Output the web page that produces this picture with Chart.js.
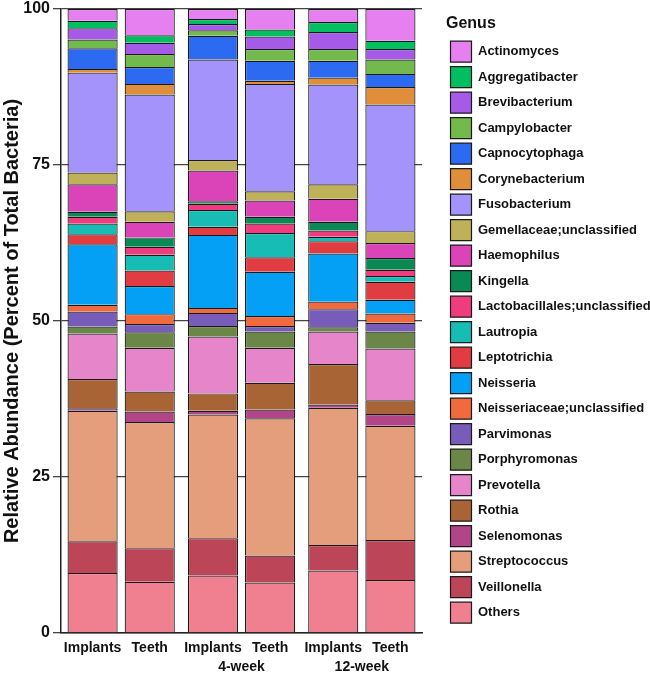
<!DOCTYPE html>
<html>
<head>
<meta charset="utf-8">
<title>Relative abundance by genus</title>
<script src="https://cdn.jsdelivr.net/npm/chart.js@4.4.1/dist/chart.umd.min.js"></script>
<style>
  html, body { margin: 0; padding: 0; background: #fff; }
  #wrap { width: 650px; height: 676px; }
</style>
</head>
<body>
<div id="wrap"><canvas id="abundanceChart"></canvas></div>
<script>
// Stack order, bottom to top
const genera = [
    "Others", "Veillonella", "Streptococcus", "Selenomonas", "Rothia",
    "Prevotella", "Porphyromonas", "Parvimonas", "Neisseriaceae;unclassified",
    "Neisseria", "Leptotrichia", "Lautropia", "Lactobacillales;unclassified",
    "Kingella", "Haemophilus", "Gemellaceae;unclassified", "Fusobacterium",
    "Corynebacterium", "Capnocytophaga", "Campylobacter", "Brevibacterium",
    "Aggregatibacter", "Actinomyces"
];
const colors = [
    "#f07f8f", "#bd4558", "#e59e7c", "#b24588", "#a86434",
    "#e685c9", "#6a8747", "#775cb9", "#f06a3e",
    "#03a0f5", "#e03c42", "#17bdb5", "#f03c7e",
    "#098a55", "#db44b8", "#bfb05a", "#a493fa",
    "#e08e3a", "#2d6af2", "#72ba4b", "#a65be8",
    "#00bf60", "#e67fef"
];
const groups = ["", "4-week", "12-week"];
const sites = ["Implants", "Teeth"];

// Percent of total bacteria, same order as genera
const implantsBaseline = [9.6, 5.1, 20.9, 0.4, 4.7, 7.3, 1.1, 2.4, 1.1, 9.7, 1.6, 1.7, 1.1, 0.8, 4.4, 1.9, 16.0, 0.6, 3.3, 1.4, 1.8, 1.2, 1.9];
const teethBaseline    = [8.2, 5.4, 20.2, 1.7, 3.2, 7.0, 2.5, 1.3, 1.6, 4.5, 2.5, 2.5, 1.3, 1.5, 2.5, 1.7, 18.7, 1.7, 2.7, 2.1, 1.8, 1.2, 4.2];
const implants4wk      = [9.2, 6.0, 19.8, 0.6, 2.8, 9.1, 1.7, 2.1, 0.8, 11.7, 1.3, 2.7, 1.0, 0.4, 4.9, 1.7, 16.1, 0.1, 3.7, 0.9, 1.0, 0.8, 1.6];
const teeth4wk         = [8.1, 4.3, 22.0, 1.4, 4.3, 5.6, 2.6, 0.9, 1.6, 7.1, 2.3, 3.9, 1.5, 1.1, 2.6, 1.5, 17.2, 0.5, 3.2, 1.9, 2.0, 1.1, 3.3];
const implants12wk     = [10.0, 4.1, 22.0, 0.5, 6.5, 5.2, 0.7, 2.9, 1.2, 7.7, 2.0, 0.7, 1.0, 1.4, 3.7, 2.3, 16.0, 1.1, 2.7, 1.9, 2.7, 1.6, 2.1];
const teeth12wk        = [8.5, 6.4, 18.3, 1.9, 2.2, 8.3, 2.7, 1.4, 1.5, 2.2, 2.9, 0.9, 1.0, 1.9, 2.4, 1.9, 20.3, 2.8, 2.1, 2.3, 1.7, 1.3, 5.1];

const FONT = "'Liberation Sans', Arial, Helvetica, sans-serif";

// Implants / Teeth under every bar
const siteLabels = {
    id: "siteLabels",
    afterDraw(chart) {
        const ctx = chart.ctx;
        const y = chart.chartArea.bottom + 8;
        ctx.save();
        ctx.font = "bold 14px " + FONT;
        ctx.fillStyle = "#111";
        ctx.textAlign = "center";
        ctx.textBaseline = "top";
        sites.forEach((site, s) => {
            chart.getDatasetMeta(s).data.forEach((bar) => ctx.fillText(site, bar.x, y));
        });
        ctx.restore();
    }
};

function buildDatasets() {
    const implants = [implantsBaseline, implants4wk, implants12wk];
    const teeth = [teethBaseline, teeth4wk, teeth12wk];
    const sets = [];
    genera.forEach((name, g) => {
        [implants, teeth].forEach((samples, s) => {
            sets.push({
                label: name,
                stack: sites[s],
                data: samples.map((arr) => arr[g]),
                backgroundColor: colors[g],
                borderColor: "#1a1a1a",
                borderWidth: 1.2,
                barPercentage: 0.877,
                categoryPercentage: 0.95
            });
        });
    });
    return sets;
}

Chart.defaults.font.family = FONT;
Chart.defaults.font.weight = "bold";
Chart.defaults.color = "#111";

new Chart(document.getElementById("abundanceChart").getContext("2d"), {
    type: "bar",
    data: { labels: groups, datasets: buildDatasets() },
    options: {
        responsive: true,
        maintainAspectRatio: false,
        animation: false,
        layout: { padding: 0 },
        scales: {
            x: {
                stacked: true,
                grid: { display: false },
                border: { display: true, color: "#222", width: 1.5 },
                ticks: { padding: 18, font: { size: 14, weight: "bold" } },
                afterFit: (scale) => { scale.height = 43; }
            },
            y: {
                stacked: true,
                min: 0,
                max: 100,
                ticks: { stepSize: 25, padding: 3, font: { size: 16, weight: "bold", lineHeight: 0.75 } },
                grid: { color: "#444", lineWidth: 1.3, tickLength: 8 },
                border: { display: true, color: "#222", width: 1.5 },
                title: {
                    display: true,
                    text: "Relative Abundance (Percent of Total Bacteria)",
                    font: { size: 20, weight: "bold" },
                    padding: { top: 0, bottom: 0 }
                },
                afterFit: (scale) => { scale.width = 61; }
            },
            gap: {
                position: "right",
                display: true,
                grid: { display: false },
                border: { display: false },
                ticks: { display: false },
                afterFit: (scale) => { scale.width = 24; }
            }
        },
        plugins: {
            tooltip: { enabled: false },
            legend: {
                position: "right",
                align: "start",
                reverse: true,
                maxWidth: 204,
                title: {
                    display: true,
                    text: "Genus",
                    position: "start",
                    font: { size: 16, weight: "bold" },
                    padding: { top: 16, bottom: 1.5 }
                },
                labels: {
                    boxWidth: 21,
                    boxHeight: 21,
                    padding: 4.5,
                    font: { size: 13, weight: "bold" },
                    filter: (item) => item.datasetIndex % 2 === 0
                }
            }
        }
    },
    plugins: [siteLabels]
});
</script>
</body>
</html>
